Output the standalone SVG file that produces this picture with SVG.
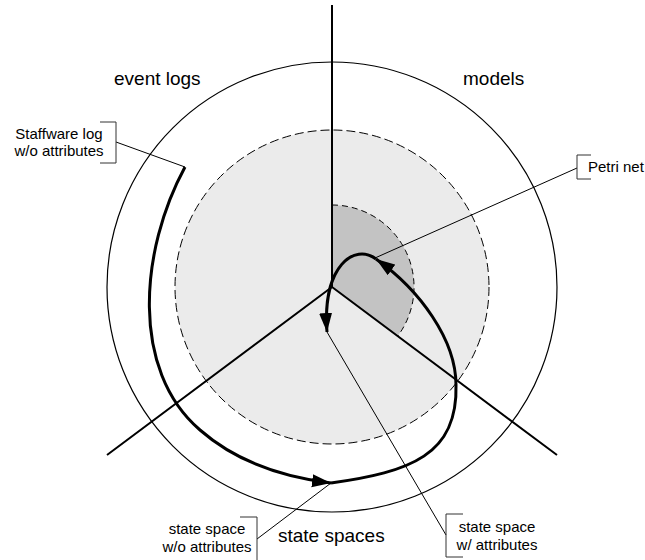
<svg xmlns="http://www.w3.org/2000/svg" width="645" height="560" viewBox="0 0 645 560">
<style>
text{font-family:"Liberation Sans",Arial,sans-serif;fill:#000}
.big{font-size:19px}
.small{font-size:15px}
.axis{stroke:#000;stroke-width:2;fill:none}
.thick{stroke:#000;stroke-width:3;fill:none}
.lead{stroke:#000;stroke-width:1;fill:none}
.brk{stroke:#333;stroke-width:1;fill:none}
</style>
<defs>
<marker id="ah" markerUnits="userSpaceOnUse" markerWidth="22" markerHeight="14" refX="19" refY="6.5" orient="auto">
<path d="M0,0 L19,6.5 L0,13 Z" fill="#000"/>
</marker>
</defs>
<g id="background">
<circle cx="332" cy="287" r="225" fill="none" stroke="#000" stroke-width="1.2"/>
<circle cx="332" cy="287" r="157" fill="#ebebeb" stroke="#000" stroke-width="1" stroke-dasharray="9,4"/>
<path d="M332,287 L332,205 A82,82 0 0,1 397.7,336.1 Z" fill="#c3c3c3"/>
<path d="M332,205 A82,82 0 0,1 397.7,336.1" fill="none" stroke="#000" stroke-width="1" stroke-dasharray="6,4"/>
</g>
<g id="axes">
<path class="axis" d="M332,5 L332,287 M332,287 L107,455 M332,287 L557,455"/>
</g>
<g id="label-event-logs"><text class="big" x="114" y="85">event logs</text></g>
<g id="label-models"><text class="big" x="463" y="85">models</text></g>
<g id="label-state-spaces"><text class="big" x="278" y="542">state spaces</text></g>
<g id="connectors">
<path class="thick" d="M185,167 C140,250 130,370 200,430 C240,465 290,478 331,483" marker-end="url(#ah)"/>
<path class="thick" d="M331,483 C410,472 458,455 456,385 C456,340 420,290 376,259" marker-end="url(#ah)"/>
<path class="thick" d="M376,259 C355,243 322,265 327,332" marker-end="url(#ah)"/>
<path class="lead" d="M116,142 L185,167"/>
<path class="lead" d="M577,168 L375,258"/>
<path class="lead" d="M257,539 L331,483"/>
<path class="lead" d="M446,535 L327,332"/>
</g>
<g id="note-staffware">
<path class="brk" d="M100,122 H116 V163 H100"/>
<text class="small" x="59" y="139" text-anchor="middle">Staffware log</text>
<text class="small" x="59" y="156" text-anchor="middle">w/o attributes</text>
</g>
<g id="note-petri">
<path class="brk" d="M591,155 H577 V179 H591"/>
<text class="small" x="588" y="172">Petri net</text>
</g>
<g id="note-ss-wo">
<path class="brk" d="M240,517 H257 V560"/>
<text class="small" x="207" y="534" text-anchor="middle">state space</text>
<text class="small" x="207" y="552" text-anchor="middle">w/o attributes</text>
</g>
<g id="note-ss-w">
<path class="brk" d="M463,514 H446 V557 H463"/>
<text class="small" x="497" y="532" text-anchor="middle">state space</text>
<text class="small" x="497" y="550" text-anchor="middle">w/ attributes</text>
</g>
</svg>
